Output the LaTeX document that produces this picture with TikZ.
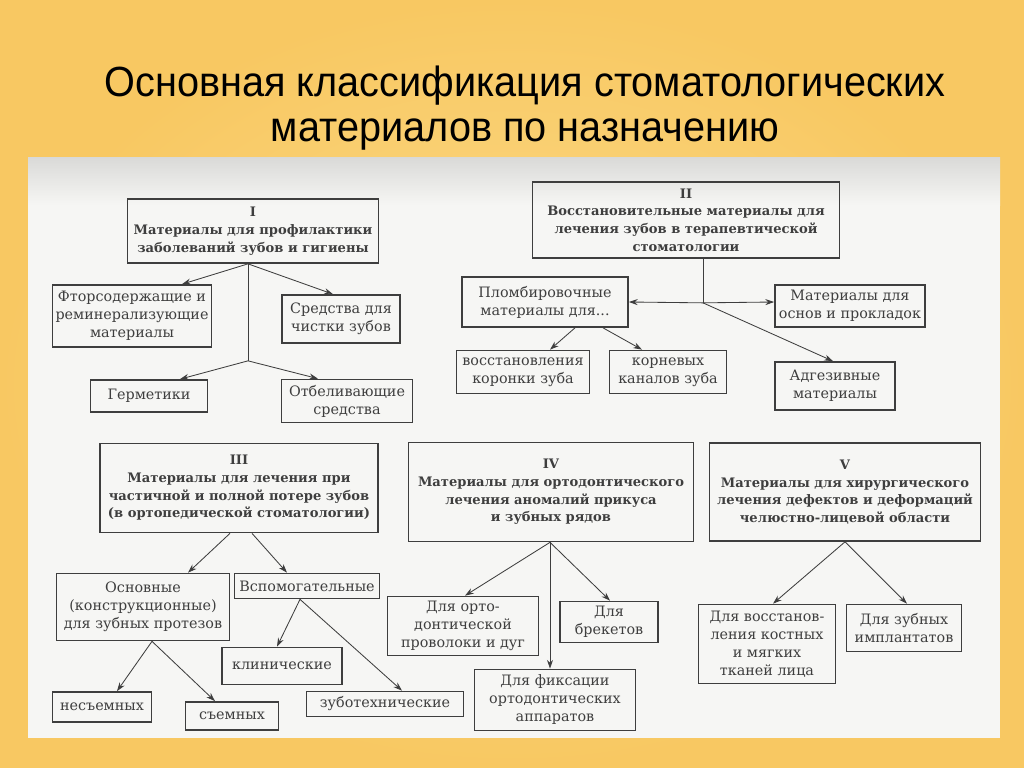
\documentclass[tikz,border=0pt]{standalone}
\usepackage{fontspec}
\setmainfont{DejaVu Serif}
\newfontfamily\titlefont[FakeStretch=0.94]{Liberation Sans}
\usepackage{tikz}
\usetikzlibrary{arrows.meta, positioning, calc}
\definecolor{bgOuter}{HTML}{F8C862}
\definecolor{bgInner}{HTML}{FCDB8A}
\definecolor{sheet}{HTML}{F6F6F4}
\definecolor{sheetTop}{HTML}{DADAD8}
\definecolor{ink}{HTML}{3E3E3E}
\newcommand{\pxu}{0.025cm}

\begin{document}
\begin{tikzpicture}[
    x=0.025cm, y=-0.025cm,
    sz/.style 2 args={minimum width=#1*\pxu, minimum height=#2*\pxu},
    box/.style={draw=ink, line width=1.2pt, align=center, inner sep=1pt,
                font=\fontsize{10.2}{12.8}\selectfont, text=ink},
    head/.style={box, font=\fontsize{9.3}{12.6}\selectfont\bfseries},
    arrow/.style={-{Stealth[length=2.2mm, width=1.5mm]}, ink, line width=0.6pt},
    line/.style={ink, line width=0.6pt},
]
\useasboundingbox (0,0) rectangle (1024,768);
\shade[inner color=bgInner, outer color=bgOuter] (0,0) rectangle (1024,768);
\fill[sheet] (28,158) rectangle (1000,738);
\shade[top color=sheetTop, bottom color=sheet] (28,158) rectangle (1000,205);

\node[font=\titlefont\fontsize{30}{32}\selectfont, align=center] (title)
    at (525,108) {Основная классификация стоматологических\\материалов по назначению};

% I
\node[head, sz={251}{64}] (gI) at (253,231)
    {I\\Материалы для профилактики\\заболеваний зубов и гигиены};
\node[box, sz={159}{62}] (ftor) at (132,316) {Фторсодержащие и\\реминерализующие\\материалы};
\node[box, sz={118}{48}] (chist) at (341,319) {Средства для\\чистки зубов};
\node[box, sz={117}{32}] (germ) at (149,396) {Герметики};
\node[box, sz={131}{43}] (otbel) at (347,401) {Отбеливающие\\средства};
\coordinate (jI1) at ($(gI.south)+(-5,0)$);
\coordinate (jI2) at ($(jI1)+(0,97)$);

\draw[arrow] (jI1) -- ($(ftor.north)+(50,0)$);
\draw[arrow] (jI1) -- ($(chist.north)+(-8,0)$);
\draw[line] (jI1) -- (jI2);
\draw[arrow] (jI2) -- ($(germ.north)+(31,0)$);
\draw[arrow] (jI2) -- ($(otbel.north)+(-29,0)$);

% II
\node[head, sz={307}{76}] (gII) at (686,220)
    {II\\Восстановительные материалы для\\лечения зубов в терапевтической\\стоматологии};
\node[box, sz={166}{50}] (plomb) at (545,302) {Пломбировочные\\материалы для...};
\node[box, sz={150}{42}] (osnpr) at (850,306) {Материалы для\\основ и прокладок};
\node[box, sz={133}{43}] (vosst) at (523,372) {восстановления\\коронки зуба};
\node[box, sz={117}{43}] (korn) at (668,372) {корневых\\каналов зуба};
\node[box, sz={120}{48}] (adg) at (835,386) {Адгезивные\\материалы};
\coordinate (jII1) at ($(gII.south)+(17,0)$);
\coordinate (jII2) at ($(jII1)+(0,44)$);

\draw[line] (jII1) -- (jII2);
\draw[arrow] (jII2) -- (plomb.east);
\draw[arrow] (jII2) -- ($(osnpr.west)+(0,-4)$);
\draw[arrow] (jII2) -- ($(adg.north)+(-2,0)$);
\draw[arrow] ($(plomb.south)+(30,0)$) -- ($(vosst.north)+(27,0)$);
\draw[arrow] ($(plomb.south)+(58,0)$) -- ($(korn.north)+(-26,0)$);

% III
\node[head, sz={278}{89}] (gIII) at (239,488)
    {III\\Материалы для лечения при\\частичной и полной потере зубов\\(в ортопедической стоматологии)};
\node[box, sz={173}{67}] (osnov) at (143,607) {Основные\\(конструкционные)\\для зубных протезов};
\node[box, sz={145}{25}] (vspom) at (307,586) {Вспомогательные};
\node[box, sz={120}{37}] (klin) at (282,666) {клинические};
\node[box, sz={157}{25}] (zubt) at (385,704) {зуботехнические};
\node[box, sz={99}{30}] (nesem) at (102,707) {несъемных};
\node[box, sz={93}{28}] (semn) at (232,716) {съемных};

\draw[arrow] ($(gIII.south)+(-9,0)$) -- ($(osnov.north)+(45,0)$);
\draw[arrow] ($(gIII.south)+(13,0)$) -- ($(vspom.north)+(-20,0)$);
\draw[arrow] ($(vspom.south)+(-7,0)$) -- ($(klin.north)+(-5,0)$);
\draw[arrow] ($(vspom.south)+(-7,0)$) -- ($(zubt.north)+(17,0)$);
\draw[arrow] ($(osnov.south)+(9,0)$) -- ($(nesem.north)+(15,0)$);
\draw[arrow] ($(osnov.south)+(9,0)$) -- ($(semn.north)+(-17,0)$);

% IV
\node[head, sz={285}{99}] (gIV) at (551,492)
    {IV\\Материалы для ортодонтического\\лечения аномалий прикуса\\и зубных рядов};
\node[box, sz={151}{59}] (orto) at (463,626) {Для орто-\\донтической\\проволоки и дуг};
\node[box, sz={98}{41}] (brek) at (609,622) {Для\\брекетов};
\node[box, sz={161}{61}] (fiks) at (555,700) {Для фиксации\\ортодонтических\\аппаратов};

\draw[arrow] ($(gIV.south)+(-1,0)$) -- ($(orto.north)+(2,0)$);
\draw[arrow] ($(gIV.south)+(-1,0)$) -- ($(fiks.north)+(-5,0)$);
\draw[arrow] ($(gIV.south)+(-1,0)$) -- ($(brek.north)+(1,0)$);

% V
\node[head, sz={271}{98}] (gV) at (845,492)
    {V\\Материалы для хирургического\\лечения дефектов и деформаций\\челюстно-лицевой области};
\node[box, sz={137}{79}] (vkost) at (767,644) {Для восстанов-\\ления костных\\и мягких\\тканей лица};
\node[box, sz={115}{47}] (impl) at (904,628) {Для зубных\\имплантатов};

\draw[arrow] (gV.south) -- ($(vkost.north)+(6,0)$);
\draw[arrow] (gV.south) -- ($(impl.north)+(3,0)$);
\end{tikzpicture}
\end{document}
